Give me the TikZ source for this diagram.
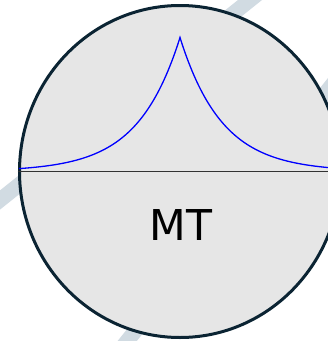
\documentclass[tikz,border=0pt]{standalone}
\usepackage{fontspec}
\newfontfamily\labelfont{DejaVu Sans}
\usetikzlibrary{shapes.geometric}
\definecolor{stripcol}{HTML}{D1DBE2}
\definecolor{diskfill}{HTML}{E6E6E6}
\definecolor{diskline}{HTML}{0B2433}
\tikzset{
  strip/.style={draw=stripcol, line width=15pt},
  diskstyle/.style={ellipse, draw=diskline, fill=diskfill, line width=3pt, inner sep=0pt,
     minimum width=321pt, minimum height=332pt},
  axisline/.style={draw=black!80, line width=0.8pt},
  curve/.style={draw=blue, line width=1.3pt, line join=miter},
  mtlabel/.style={font=\labelfont\fontsize{42.5}{48}\selectfont, inner sep=0pt}
}
\begin{document}
\begin{tikzpicture}[x=1pt,y=-1pt]
\useasboundingbox (0,0) rectangle (328,341);
\clip (0,0) rectangle (328,341);
\coordinate (a1) at (-20,216);
\coordinate (a2) at (270,-16);
\coordinate (b1) at (120,350);
\coordinate (b2) at (340,75);
\draw[strip] (a1) -- (a2);
\draw[strip] (b1) -- (b2);
\node[diskstyle] (disk) at (180,171.5) {};
\draw[axisline] (disk.west) -- (disk.east);
\draw[curve] plot[domain=19:341, samples=323] (\x, {171.5 - 134*exp(-abs(\x-180)/42)});
\node[mtlabel] (mt) at (181,225.5) {MT};
\end{tikzpicture}
\end{document}
